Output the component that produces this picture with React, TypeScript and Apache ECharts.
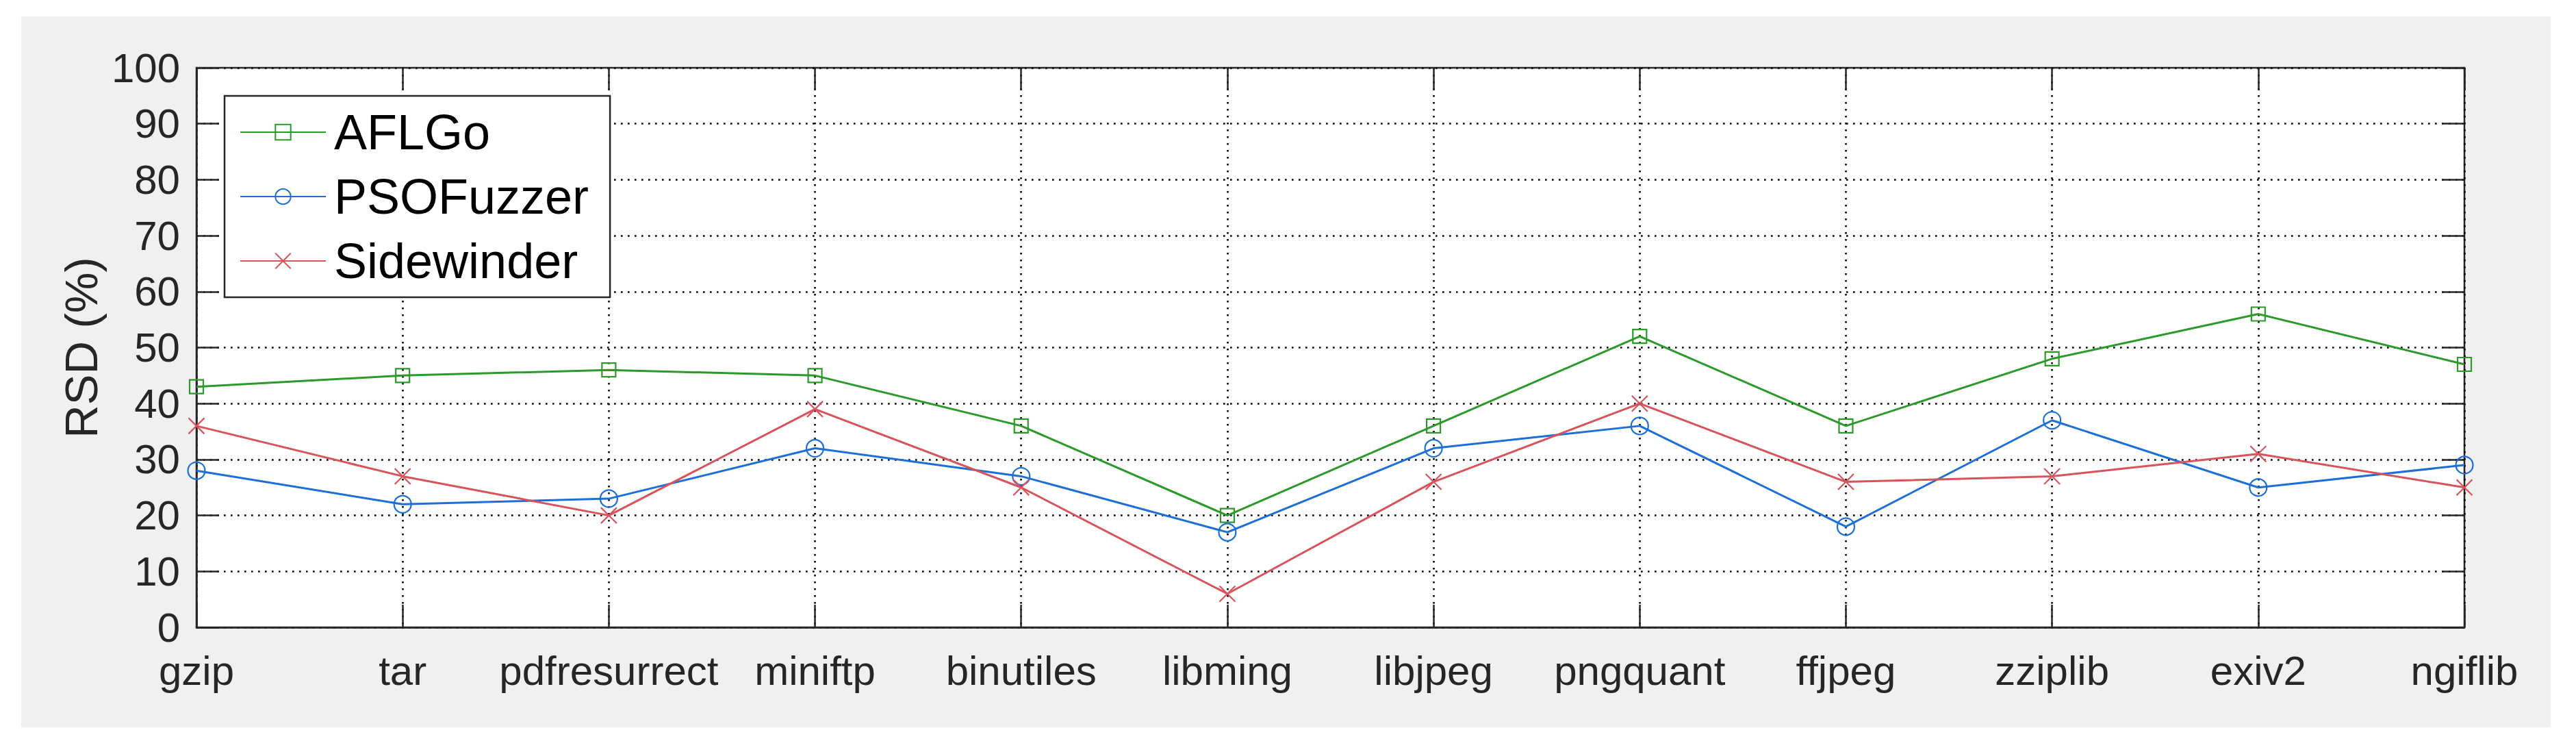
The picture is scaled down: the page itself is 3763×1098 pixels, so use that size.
import React, { useEffect, useRef } from "react";
import * as echarts from "echarts";

const categories = ["gzip", "tar", "pdfresurrect", "miniftp", "binutiles", "libming", "libjpeg", "pngquant", "ffjpeg", "zziplib", "exiv2", "ngiflib"];
const aflgo = [43, 45, 46, 45, 36, 20, 36, 52, 36, 48, 56, 47];
const psofuzzer = [28, 22, 23, 32, 27, 17, 32, 36, 18, 37, 25, 29];
const sidewinder = [36, 27, 20, 39, 25, 6, 26, 40, 26, 27, 31, 25];
const seriesNames = ["AFLGo", "PSOFuzzer", "Sidewinder"];
const yTicks = { min: 0, max: 100, interval: 10 };
const yName = "RSD (%)";

const FONT = "'Liberation Sans', Arial, Helvetica, sans-serif";
const AXIS = "#262626";
const GREEN = "#2b9a2b";
const BLUE = "#1c6fd8";
const RED = "#d8535b";

export default function App() {
  const ref = useRef<HTMLDivElement>(null);
  useEffect(() => {
    document.body.style.margin = "0";
    const chart = echarts.init(ref.current!, null, { renderer: "svg" });
    const grid = { left: 287, top: 99, width: 3313, height: 817 };
    const dotted = { color: "#000", width: 2.6, type: [2.6, 7.4] as any };
    const tick = { show: true, inside: true, length: 33, interval: 0, lineStyle: { color: AXIS, width: 2.5 } };
    chart.setOption({
      animation: false,
      backgroundColor: "#ffffff",
      textStyle: { fontFamily: FONT },
      graphic: [
        {
          type: "rect",
          z: -10,
          silent: true,
          shape: { x: 31, y: 24, width: 3695, height: 1038 },
          style: { fill: "#f0f0f0" },
        },
      ],
      grid: {
        ...grid,
        show: true,
        backgroundColor: "#ffffff",
        borderColor: AXIS,
        borderWidth: 2.5,
        z: 0,
      },
      legend: {
        left: 328,
        top: 140,
        orient: "vertical",
        data: seriesNames,
        backgroundColor: "#ffffff",
        borderColor: AXIS,
        borderWidth: 2.5,
        borderRadius: 0,
        padding: [17, 31, 17, 22],
        itemWidth: 125,
        itemHeight: 28,
        itemGap: 22,
        textStyle: { fontSize: 72, color: "#000", fontFamily: FONT, padding: [0, 0, 0, 7] },
      },
      xAxis: [
        {
          type: "category",
          data: categories,
          boundaryGap: false,
          axisLine: { show: true, onZero: false, lineStyle: { color: AXIS, width: 2.5 } },
          axisTick: tick,
          axisLabel: { interval: 0, fontSize: 60, color: AXIS, margin: 33, fontFamily: FONT },
          splitLine: { show: true, interval: 0, lineStyle: dotted },
        },
        {
          type: "category",
          data: categories,
          boundaryGap: false,
          position: "top",
          axisLine: { show: false, onZero: false },
          axisTick: tick,
          axisLabel: { show: false },
          splitLine: { show: false },
        },
      ],
      yAxis: [
        {
          type: "value",
          ...yTicks,
          name: yName,
          nameLocation: "middle",
          nameGap: 130,
          nameTextStyle: { fontSize: 67, color: AXIS, fontFamily: FONT },
          axisLine: { show: true, onZero: false, lineStyle: { color: AXIS, width: 2.5 } },
          axisTick: { ...tick, interval: "auto" },
          axisLabel: { fontSize: 60, color: AXIS, margin: 24, fontFamily: FONT },
          splitLine: { show: true, lineStyle: dotted },
        },
        {
          type: "value",
          ...yTicks,
          position: "right",
          axisLine: { show: false, onZero: false },
          axisTick: { ...tick, interval: "auto" },
          axisLabel: { show: false },
          splitLine: { show: false },
        },
      ],
      series: [
        {
          name: seriesNames[0],
          type: "line",
          data: aflgo,
          symbol: "rect",
          symbolSize: 20,
          showAllSymbol: true,
          lineStyle: { color: GREEN, width: 3 },
          itemStyle: { color: "rgba(255,255,255,0)", borderColor: GREEN, borderWidth: 2.2 },
          z: 3,
        },
        {
          name: seriesNames[1],
          type: "line",
          data: psofuzzer,
          symbol: "circle",
          symbolSize: 25,
          showAllSymbol: true,
          lineStyle: { color: BLUE, width: 3 },
          itemStyle: { color: "rgba(255,255,255,0)", borderColor: BLUE, borderWidth: 2.2 },
          z: 3,
        },
        {
          name: seriesNames[2],
          type: "line",
          data: sidewinder,
          symbol: "path://M0,0L10,10M10,0L0,10",
          symbolSize: 23,
          showAllSymbol: true,
          lineStyle: { color: RED, width: 3 },
          itemStyle: { color: "rgba(255,255,255,0)", borderColor: RED, borderWidth: 2.2 },
          z: 3,
        },
      ],
    });
    return () => chart.dispose();
  }, []);
  return (
    <div
      ref={ref}
      style={{ position: "absolute", left: 0, top: 0, width: 3763, height: 1098 }}
    />
  );
}
